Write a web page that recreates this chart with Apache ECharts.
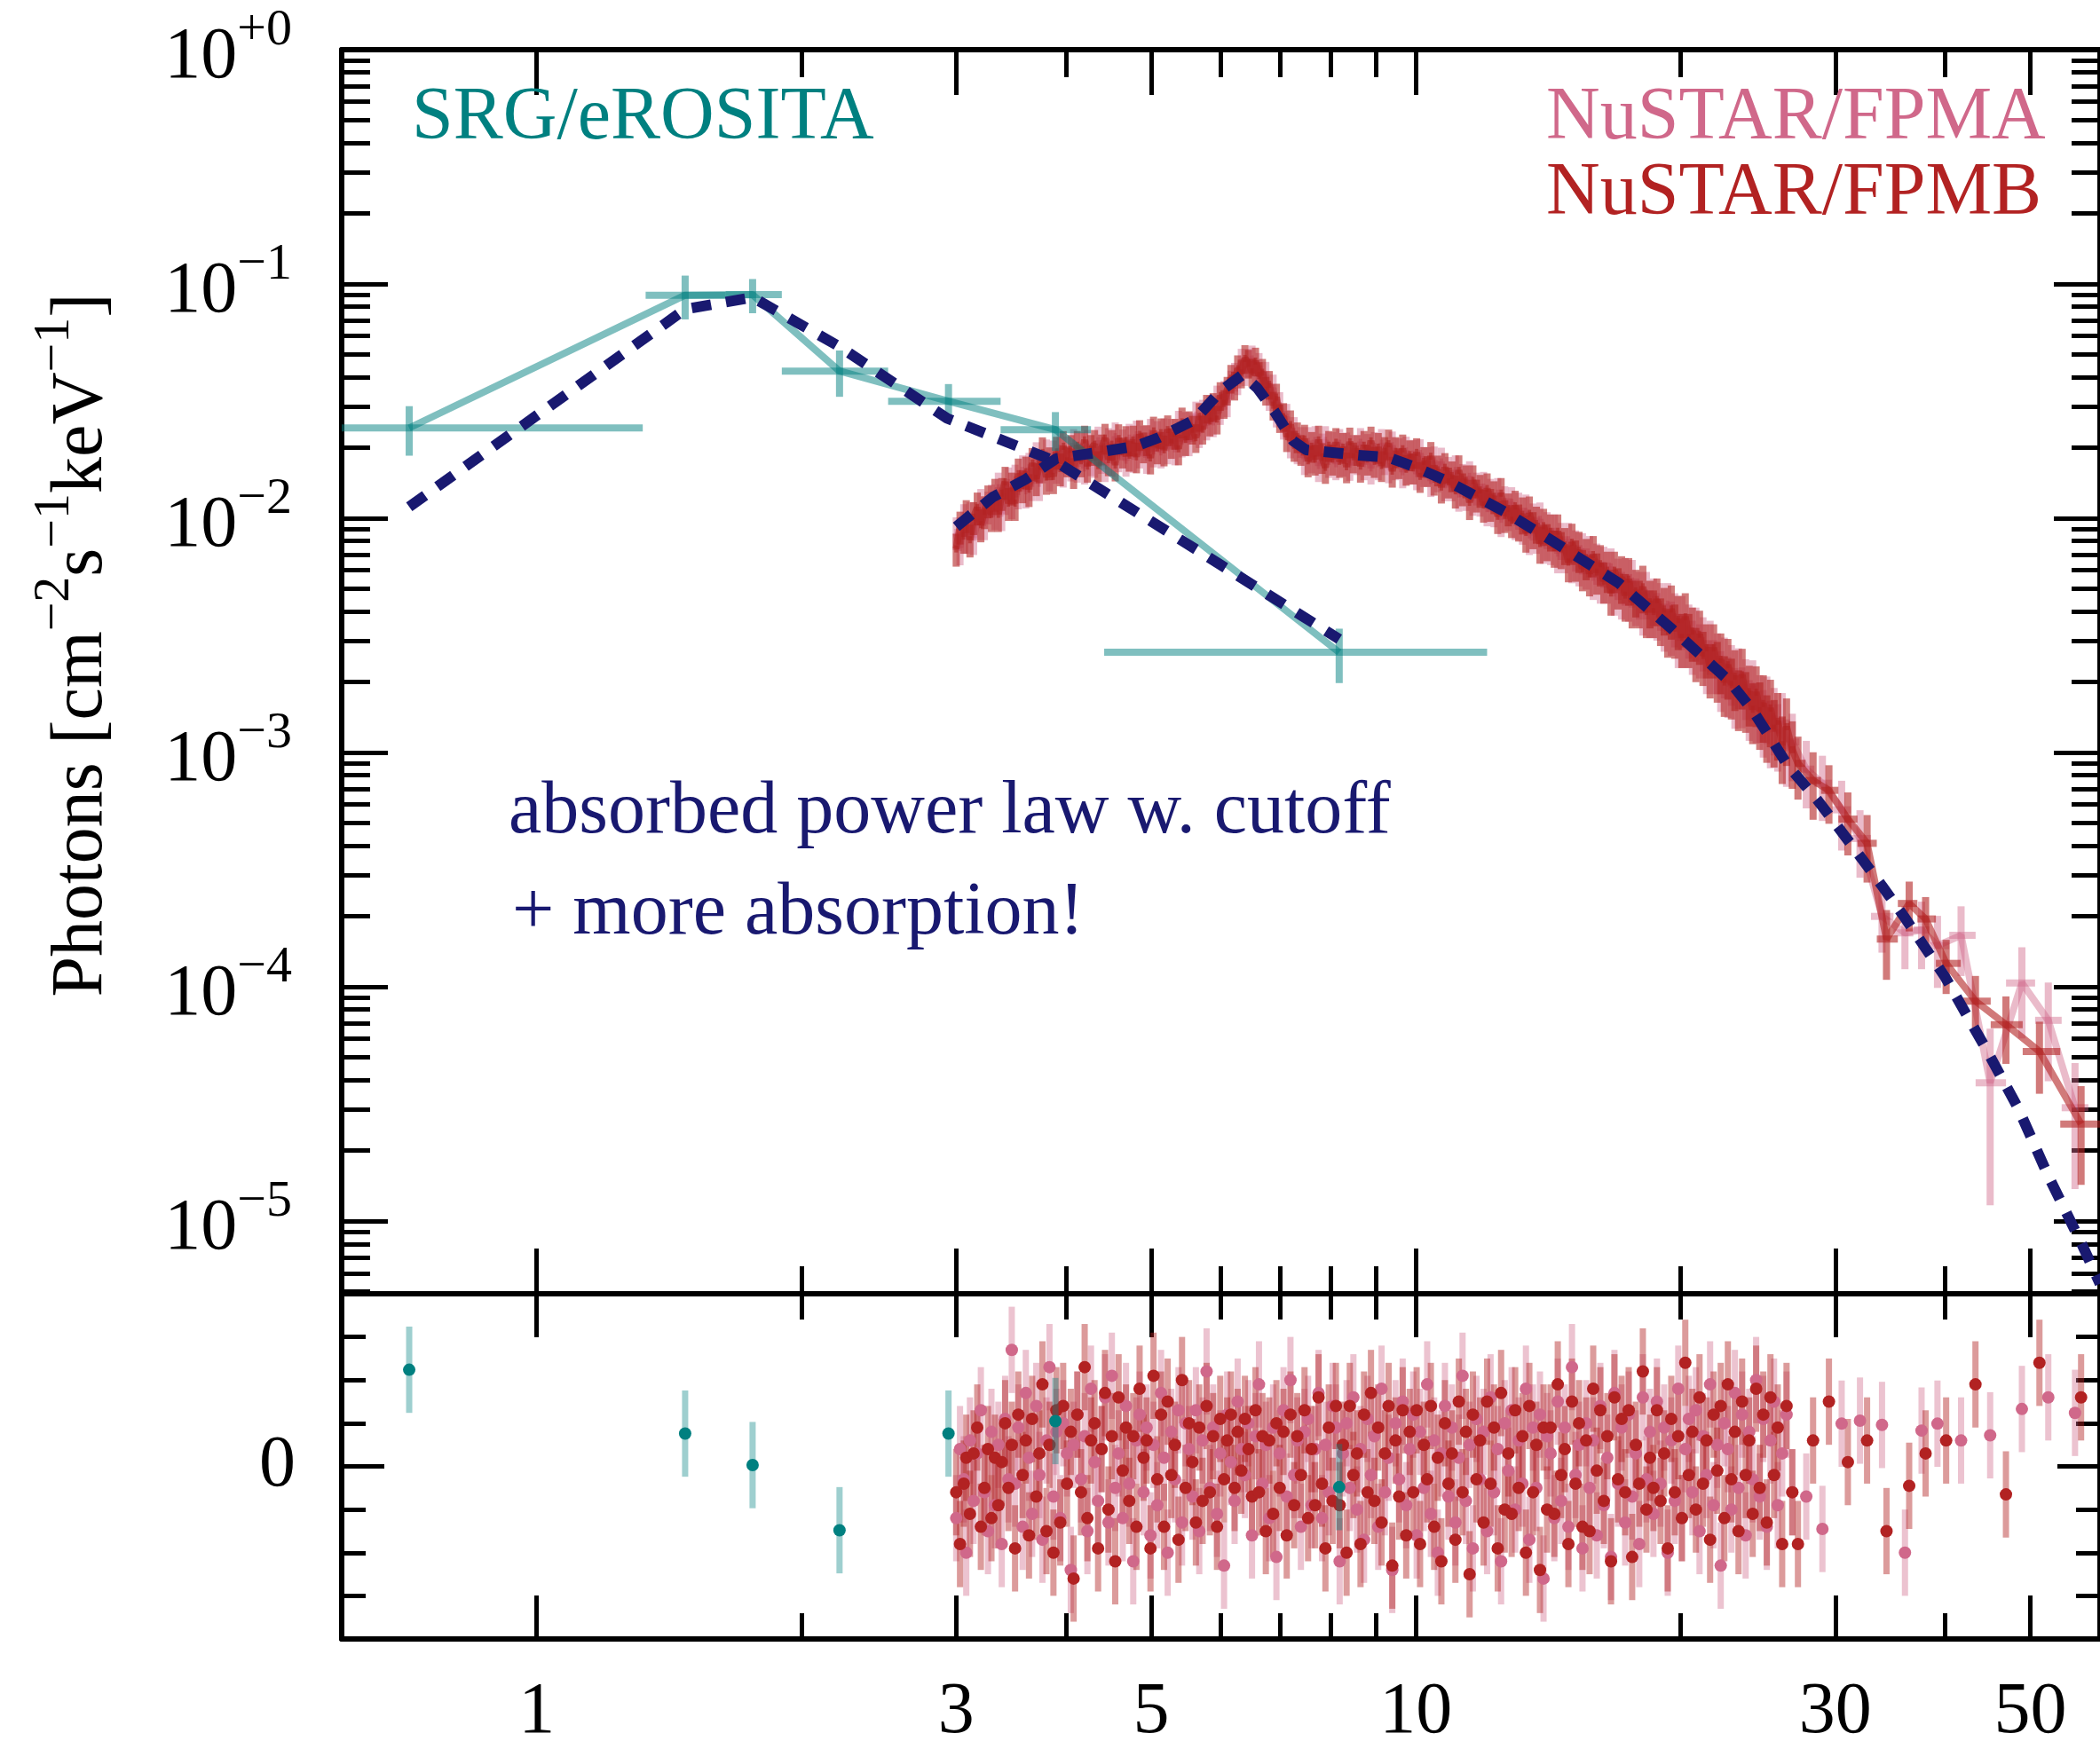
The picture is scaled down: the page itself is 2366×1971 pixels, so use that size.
<!DOCTYPE html>
<html><head><meta charset="utf-8">
<script src="https://cdn.jsdelivr.net/npm/echarts@6/dist/echarts.min.js"></script>
<style>html,body{margin:0;padding:0;background:#fff}#c{width:2366px;height:1971px}</style>
</head><body><div id="c"></div>
<script>
// ---------------- axis ticks ----------------
const X_MIN = 0.6, X_MAX = 60;
const X_MAJOR = [1, 3, 5, 10, 30, 50];
const X_MINOR = [2, 4, 6, 7, 8, 9, 20, 40];
const Y_MIN = 4.9e-6, Y_MAX = 1;
const Y_MAJOR = [1e-5, 1e-4, 1e-3, 1e-2, 1e-1, 1];
const Y_MANT = [2, 3, 4, 5, 6, 7, 8, 9];
const R_MIN = -4, R_MAX = 4;
const R_MAJOR = [0];
const R_MINOR = [-3, -2, -1, 1, 2, 3];

// ---------------- SRG/eROSITA ----------------
const erE   = [0.716, 1.475, 1.76, 2.21, 2.94, 3.89, 8.18];
const erLo  = [0.38, 1.33, 1.64, 1.90, 2.51, 3.37, 4.42];
const erHi  = [1.32, 1.64, 1.90, 2.51, 3.37, 4.27, 12.05];
const erF   = [0.0243, 0.0896, 0.0900, 0.0425, 0.0316, 0.0239, 0.00268];
const erErr = [0.0058, 0.019, 0.015, 0.0095, 0.0058, 0.0045, 0.0007];
const erRes = [2.24, 0.76, 0.03, -1.48, 0.76, 1.05, -0.48];

// ---------------- model (dashed) ----------------
const modErE = [0.716, 1.475, 1.76, 2.21, 2.93, 3.89, 8.18];
const modErF = [0.0112, 0.078, 0.0877, 0.054, 0.0267, 0.0175, 0.00305];
const modNuE = [3.0, 3.3, 3.6, 3.9, 4.3, 4.8, 5.1, 5.6, 6.0, 6.35, 6.6, 6.9, 7.25, 7.5, 8.6, 9.3, 10.0, 10.9, 12.6, 14.3, 17.0, 19.5, 22.7, 24.2, 26.5, 28.6, 31.2, 33.9, 35.9, 40.0, 44.2, 48.4, 52.4, 57.1, 60];
const modNuF = [0.0092, 0.0123, 0.0147, 0.018, 0.019, 0.0203, 0.0221, 0.0263, 0.035, 0.041, 0.036, 0.0287, 0.0214, 0.0196, 0.0186, 0.0182, 0.0165, 0.0143, 0.0107, 0.008, 0.0053, 0.0034, 0.00203, 0.0015, 0.00088, 0.00063, 0.00041, 0.00027, 0.0002, 0.00011, 0.000057, 0.0000305, 0.0000156, 0.0000081, 0.0000054];

// ---------------- NuSTAR shared bin centres (3-27 keV) ----------------
const nuE = [3.00,3.03,3.06,3.08,3.11,3.14,3.17,3.20,3.23,3.26,
3.29,3.32,3.35,3.38,3.41,3.44,3.47,3.50,3.53,3.57,
3.60,3.63,3.66,3.70,3.73,3.76,3.80,3.83,3.87,3.90,
3.94,3.97,4.01,4.05,4.08,4.12,4.16,4.20,4.23,4.27,
4.31,4.35,4.39,4.43,4.47,4.51,4.55,4.59,4.64,4.68,
4.72,4.77,4.81,4.85,4.90,4.94,4.99,5.03,5.08,5.13,
5.17,5.22,5.27,5.32,5.37,5.42,5.47,5.52,5.57,5.62,
5.67,5.72,5.78,5.83,5.88,5.94,5.99,6.05,6.10,6.16,
6.22,6.27,6.33,6.39,6.45,6.51,6.57,6.63,6.69,6.75,
6.81,6.88,6.94,7.00,7.07,7.13,7.20,7.27,7.33,7.40,
7.47,7.54,7.61,7.68,7.75,7.82,7.89,7.96,8.04,8.11,
8.19,8.26,8.34,8.41,8.49,8.57,8.65,8.73,8.81,8.89,
8.97,9.06,9.14,9.22,9.31,9.40,9.48,9.57,9.66,9.75,
9.84,9.93,10.02,10.11,10.21,10.30,10.40,10.49,10.59,10.69,
10.79,10.89,10.99,11.09,11.19,11.30,11.40,11.51,11.61,11.72,
11.83,11.94,12.05,12.16,12.27,12.39,12.50,12.62,12.74,12.85,
12.97,13.09,13.22,13.34,13.46,13.59,13.71,13.84,13.97,14.10,
14.23,14.37,14.50,14.63,14.77,14.91,15.05,15.19,15.33,15.47,
15.62,15.76,15.91,16.06,16.21,16.36,16.51,16.67,16.82,16.98,
17.14,17.30,17.46,17.62,17.79,17.95,18.12,18.29,18.46,18.63,
18.80,18.98,19.16,19.34,19.52,19.70,19.88,20.07,20.25,20.44,
20.63,20.82,21.02,21.21,21.41,21.61,21.81,22.02,22.22,22.43,
22.64,22.85,23.06,23.28,23.50,23.72,23.94,24.16,24.38,24.61,
24.84,25.07,25.31,25.55,25.80,26.10,26.40,26.80];

// relative 1-sigma error level of the NuSTAR points by energy band [from keV, rel. error]
const relErrBands = [[0, 0.16], [4.0, 0.15], [5.5, 0.14], [7.2, 0.15], [11, 0.16], [13, 0.18], [15, 0.20], [17, 0.23], [19.5, 0.26], [22, 0.29], [24.5, 0.32]];

// ---------------- NuSTAR/FPMB ----------------
const fpmbF = [0.0074,0.0092,0.0084,0.0103,0.0081,0.0101,0.0111,0.0094,0.0107,0.0119,
0.0104,0.0127,0.0104,0.0128,0.0143,0.0116,0.0135,0.0116,0.0155,0.0138,
0.0158,0.0133,0.0172,0.0148,0.0168,0.0191,0.0150,0.0173,0.0151,0.0192,
0.0163,0.0203,0.0176,0.0197,0.0157,0.0205,0.0176,0.0216,0.0167,0.0197,
0.0207,0.0168,0.0198,0.0220,0.0178,0.0207,0.0169,0.0219,0.0192,0.0215,
0.0186,0.0216,0.0183,0.0228,0.0202,0.0217,0.0181,0.0236,0.0200,0.0232,
0.0196,0.0239,0.0211,0.0231,0.0198,0.0258,0.0217,0.0251,0.0240,0.0221,
0.0272,0.0240,0.0295,0.0260,0.0300,0.0265,0.0334,0.0309,0.0352,0.0396,
0.0370,0.0435,0.0417,0.0481,0.0459,0.0421,0.0469,0.0407,0.0420,0.0352,
0.0373,0.0304,0.0329,0.0269,0.0272,0.0223,0.0251,0.0205,0.0223,0.0197,
0.0218,0.0176,0.0203,0.0179,0.0216,0.0182,0.0165,0.0205,0.0179,0.0211,
0.0175,0.0201,0.0166,0.0212,0.0183,0.0197,0.0167,0.0205,0.0179,0.0214,
0.0175,0.0201,0.0168,0.0193,0.0208,0.0159,0.0193,0.0173,0.0198,0.0162,
0.0187,0.0164,0.0191,0.0151,0.0175,0.0160,0.0184,0.0147,0.0161,0.0136,
0.0165,0.0143,0.0152,0.0131,0.0160,0.0134,0.0145,0.0117,0.0145,0.0126,
0.0132,0.0114,0.0134,0.0115,0.0124,0.0102,0.0128,0.0103,0.0110,0.0098,
0.0113,0.0097,0.0104,0.0087,0.0105,0.0090,0.0095,0.0078,0.0093,0.0080,
0.0088,0.0075,0.0088,0.0074,0.0077,0.0065,0.0079,0.0067,0.0073,0.0061,
0.0068,0.0058,0.0070,0.0059,0.0064,0.0054,0.0060,0.0048,0.0060,0.0051,
0.0056,0.0047,0.0055,0.0044,0.0049,0.0044,0.0051,0.0040,0.0044,0.0040,
0.0045,0.0037,0.0041,0.0033,0.0041,0.0034,0.0037,0.0031,0.0038,0.0031,
0.0033,0.0027,0.0032,0.0026,0.0028,0.0023,0.0028,0.0023,0.0025,0.0020,
0.00237,0.00195,0.00212,0.00174,0.00215,0.00171,0.00182,0.00153,0.00181,0.00151,
0.00162,0.00133,0.00155,0.00127,0.00136,0.00108,0.00129,0.00103];
const fpmbRes = [-0.6,-1.8,-0.4,0.2,-1.1,0.3,0.9,-1.4,-0.5,0.4,
-1.2,0.2,-0.9,0.1,1.0,-0.5,0.5,-1.9,1.2,-0.2,
0.6,-1.6,1.1,-0.7,0.3,1.9,-1.5,0.5,-2.0,1.3,
-1.3,1.4,-0.4,0.8,-2.6,1.2,-0.6,2.3,-1.2,0.6,
1.0,-1.9,0.4,1.7,-1.0,0.7,-2.2,1.6,-0.1,0.9,
-0.8,0.7,-1.4,1.8,0.2,0.6,-1.9,2.1,-0.3,1.2,
-1.4,1.5,-0.2,0.5,-1.7,2.0,-0.5,1.0,0.1,-1.3,
0.9,-0.8,1.4,-0.6,0.7,-1.4,1.1,-0.3,0.6,1.2,
-0.5,0.8,-0.1,1.1,0.4,-0.7,1.3,-0.6,0.7,-1.5,
0.6,-1.1,1.0,-0.5,0.8,-1.6,1.2,-0.9,0.7,-0.2,
1.3,-1.2,0.4,-0.9,1.6,-0.4,-1.9,0.9,-0.8,1.4,
-0.9,0.5,-2.0,1.4,-0.2,0.3,-1.8,1.2,-0.6,1.7,
-0.8,0.9,-1.3,0.3,1.4,-2.3,0.6,-0.7,1.3,-1.6,
0.8,-0.6,1.3,-1.8,0.5,-0.3,1.4,-1.4,0.2,-2.2,
1.0,-0.4,0.3,-1.7,1.5,-0.6,0.8,-2.5,1.2,-0.3,
0.6,-1.3,1.5,-0.4,0.9,-1.9,1.7,-1.0,0.3,-1.1,
1.3,-0.5,0.7,-2.0,1.4,-0.6,0.5,-2.4,0.9,-1.0,
0.9,-1.1,1.9,-0.2,0.4,-1.8,1.5,-0.4,1.0,-1.4,
0.6,-1.5,1.8,-0.1,1.3,-0.8,0.7,-2.2,1.6,-0.3,
1.1,-0.6,1.3,-2.1,0.5,-0.4,2.2,-1.0,0.2,-0.5,
1.3,-0.8,0.3,-1.9,1.1,-0.6,0.7,-1.2,2.4,-0.2,
0.8,-1.0,1.6,-0.4,0.6,-1.7,1.2,-0.1,1.4,-1.2,
1.9,-0.3,0.8,-1.5,1.5,-0.2,0.6,-1.1,1.8,-0.5,
1.2,-1.3,1.6,-0.2,0.9,-1.8,1.4,-0.6];
const fpmbTailE   = [27.20, 28.30, 29.50, 31.00, 32.60, 34.30, 36.40, 38.00, 40.10, 43.30, 46.90, 51.20, 57.10];
const fpmbTailF   = [0.00090, 0.00076, 0.00069, 0.00052, 0.00041, 0.00016, 0.000227, 0.000195, 0.000126, 0.000087, 0.000069, 0.000053, 0.000026];
const fpmbTailRel = [0.30, 0.32, 0.28, 0.30, 0.32, 0.33, 0.24, 0.24, 0.26, 0.28, 0.32, 0.34, 0.45];
const fpmbTailRes = [-1.8, 0.6, 1.5, 0.1, 0.6, -1.5, -0.45, 0.3, 0.6, 1.9, -0.65, 2.4, 1.6];

// ---------------- NuSTAR/FPMA ----------------
const fpmaF = [0.0087,0.0075,0.0099,0.0084,0.0101,0.0083,0.0096,0.0115,0.0096,0.0112,
0.0120,0.0106,0.0135,0.0105,0.0123,0.0142,0.0118,0.0146,0.0130,0.0160,
0.0131,0.0164,0.0141,0.0182,0.0141,0.0168,0.0187,0.0155,0.0185,0.0167,
0.0199,0.0161,0.0194,0.0169,0.0209,0.0167,0.0202,0.0164,0.0207,0.0178,
0.0175,0.0214,0.0182,0.0168,0.0211,0.0177,0.0223,0.0185,0.0208,0.0177,
0.0220,0.0184,0.0227,0.0192,0.0216,0.0182,0.0231,0.0194,0.0226,0.0192,
0.0232,0.0200,0.0231,0.0198,0.0250,0.0214,0.0247,0.0214,0.0247,0.0276,
0.0232,0.0281,0.0250,0.0293,0.0258,0.0323,0.0291,0.0338,0.0314,0.0374,
0.0404,0.0390,0.0464,0.0427,0.0464,0.0479,0.0416,0.0445,0.0376,0.0408,
0.0334,0.0360,0.0284,0.0303,0.0252,0.0270,0.0212,0.0235,0.0200,0.0213,
0.0180,0.0213,0.0183,0.0215,0.0168,0.0200,0.0215,0.0175,0.0203,0.0171,
0.0209,0.0177,0.0202,0.0170,0.0197,0.0180,0.0211,0.0171,0.0199,0.0164,
0.0203,0.0171,0.0209,0.0180,0.0166,0.0204,0.0171,0.0191,0.0158,0.0194,
0.0164,0.0188,0.0155,0.0189,0.0160,0.0175,0.0145,0.0176,0.0152,0.0174,
0.0139,0.0159,0.0139,0.0160,0.0127,0.0147,0.0128,0.0151,0.0122,0.0135,
0.0121,0.0136,0.0110,0.0127,0.0109,0.0128,0.0099,0.0118,0.0105,0.0117,
0.0096,0.0109,0.0094,0.0107,0.0085,0.0098,0.0086,0.0099,0.0078,0.0090,
0.0077,0.0088,0.0071,0.0081,0.0071,0.0081,0.0066,0.0074,0.0064,0.0072,
0.0062,0.0070,0.0056,0.0065,0.0054,0.0063,0.0054,0.0062,0.0048,0.0056,
0.0048,0.0055,0.0047,0.0054,0.0045,0.0048,0.0041,0.0048,0.0040,0.0045,
0.0039,0.0043,0.0035,0.0043,0.0035,0.0038,0.0031,0.0037,0.0031,0.0034,
0.0029,0.0033,0.0028,0.0030,0.0024,0.0029,0.0024,0.0025,0.0021,0.0024,
0.00198,0.00223,0.00178,0.00216,0.00179,0.00194,0.00158,0.00192,0.00154,0.00162,
0.00140,0.00160,0.00126,0.00143,0.00122,0.00136,0.00105,0.00111];
const fpmaRes = [-1.2,0.4,-0.3,-2.0,0.6,-0.8,0.3,1.3,-0.6,-1.5,
0.8,-0.9,0.5,-1.8,1.1,-0.3,2.7,-0.4,0.9,-1.4,
1.7,0.2,-1.1,1.4,-0.2,-1.7,0.6,2.3,-0.7,0.8,
-1.2,1.0,0.3,-2.4,0.5,1.2,-0.3,0.7,-1.5,1.8,
0.1,-0.8,0.4,1.6,-1.3,2.1,-0.5,0.3,-1.2,1.4,
-0.4,-2.2,0.6,1.2,-0.6,0.9,-1.6,0.5,-0.9,1.7,
0.2,-2.0,0.8,-0.3,1.3,-1.3,1.0,0.4,-0.7,1.3,
-1.5,0.6,2.2,-0.5,0.9,-1.1,0.3,-2.3,1.2,0.1,
-0.8,1.5,0.4,-0.2,1.0,-1.6,0.7,1.9,-0.4,0.5,
-1.2,0.9,-2.1,0.3,1.3,-0.7,2.0,-0.2,0.6,-1.4,
0.8,1.1,-0.9,0.4,1.7,-1.2,0.5,-0.6,1.4,0.9,
-2.2,0.3,1.0,-0.5,1.6,-1.0,0.4,-1.7,1.1,-0.2,
0.7,-1.4,1.8,-0.6,0.2,-2.4,1.0,-0.3,1.5,-0.9,
0.4,1.2,-1.6,0.8,-0.5,1.9,-1.1,0.6,-2.0,0.3,
1.4,-0.7,0.9,-1.3,0.2,2.1,-0.8,0.5,-1.9,1.1,
-0.3,0.8,-1.5,1.6,-0.6,0.4,-2.2,1.0,-0.1,1.3,
-1.0,0.6,-0.4,1.8,-1.7,0.9,-0.5,1.2,-2.6,0.7,
0.3,-1.2,1.5,-0.8,0.9,-1.4,2.3,-0.2,0.5,-1.9,
1.0,-0.5,0.6,-1.6,1.4,-0.9,0.2,-2.1,1.7,-0.4,
0.9,-1.3,1.2,-0.7,0.3,-1.8,1.6,-0.3,0.8,-1.1,
1.5,-0.4,0.9,-2.0,0.6,-0.8,1.8,-1.2,0.4,1.1,
-0.6,1.3,-1.5,0.7,-0.2,1.9,-0.9,0.5,-2.3,1.0,
0.4,-1.0,1.7,-0.5,1.2,-1.6,0.8,-0.3,2.0,-0.7,
1.1,-1.4,0.6,1.5,-0.9,0.3,1.2,-0.6];
const fpmaTailE   = [27.80, 29.00, 30.50, 32.00, 33.90, 36.00, 37.60, 39.20, 41.70, 45.00, 48.90, 52.40, 56.20];
const fpmaTailF   = [0.00085, 0.00074, 0.00057, 0.00043, 0.00020, 0.00017, 0.000175, 0.00015, 0.000166, 0.000039, 0.000104, 0.000072, 0.0000305];
const fpmaTailRel = [0.32, 0.31, 0.33, 0.32, 0.30, 0.30, 0.32, 0.34, 0.33, 0.70, 0.42, 0.45, 0.55];
const fpmaTailRes = [-0.7, -1.45, 0.99, 1.06, 0.96, -2.0, 0.83, 0.99, 0.6, 0.72, 1.33, 1.6, 1.24];

// ---------------- styling ----------------
const FONT = '"Liberation Serif", "Times New Roman", serif';
const TEAL = '#008080', TEAL_A = 'rgba(0,128,128,0.5)', TEAL_B = 'rgba(0,128,128,0.38)';
const RED = '#b22222', RED_A = 'rgba(178,34,34,0.6)', RED_B = 'rgba(178,34,34,0.45)';
const PINK = '#d0688a', PINK_A = 'rgba(208,104,138,0.45)', PINK_B = 'rgba(208,104,138,0.4)';
const NAVY = '#191970';

// ---------------- helpers ----------------
function bandRel(e) { let r = relErrBands[0][1]; for (const b of relErrBands) if (e >= b[0]) r = b[1]; return r; }
const fpmbE = nuE.concat(fpmbTailE), fpmbFlux = fpmbF.concat(fpmbTailF), fpmbRs = fpmbRes.concat(fpmbTailRes);
const fpmbRel = nuE.map(bandRel).concat(fpmbTailRel);
const fpmaE = nuE.concat(fpmaTailE), fpmaFlux = fpmaF.concat(fpmaTailF), fpmaRs = fpmaRes.concat(fpmaTailRes);
const fpmaRel = nuE.map(bandRel).concat(fpmaTailRel);

function nuCross(E, F, rel) {
  const n = Math.min(E.length, F.length, rel.length), out = [];
  for (let i = 0; i < n; i++) {
    const hi = i < n - 1 ? Math.sqrt(E[i] * E[i + 1]) : E[i] * E[i] / Math.sqrt(E[i] * E[i - 1]);
    const lo = i > 0 ? Math.sqrt(E[i] * E[i - 1]) : E[i] * E[i] / hi;
    out.push([E[i], F[i], lo, hi, F[i] * (1 - rel[i]), F[i] * (1 + rel[i])]);
  }
  return out;
}
function pairs(a, b) { const o = []; for (let i = 0; i < Math.min(a.length, b.length); i++) o.push([a[i], b[i]]); return o; }
const erCrossData = erE.map((e, i) => [e, erF[i], erLo[i], erHi[i], erF[i] - erErr[i], erF[i] + erErr[i]]);

function crossRender(color, lw) {
  return function (params, api) {
    const x = api.value(0), y = api.value(1);
    const a = api.coord([api.value(2), y]), b = api.coord([api.value(3), y]);
    const c = api.coord([x, api.value(4)]), d = api.coord([x, api.value(5)]);
    return { type: 'group', children: [
      { type: 'line', shape: { x1: a[0], y1: a[1], x2: b[0], y2: b[1] }, style: { stroke: color, lineWidth: lw } },
      { type: 'line', shape: { x1: c[0], y1: c[1], x2: d[0], y2: d[1] }, style: { stroke: color, lineWidth: lw } }
    ] };
  };
}
function resBarRender(barColor) {
  return function (params, api) {
    const x = api.value(0), r = api.value(1);
    const a = api.coord([x, r - 1]), b = api.coord([x, r + 1]);
    return { type: 'line', shape: { x1: a[0], y1: a[1], x2: b[0], y2: b[1] }, style: { stroke: barColor, lineWidth: 7 } };
  };
}
function resDotRender(dotColor) {
  return function (params, api) {
    const p = api.coord([api.value(0), api.value(1)]);
    return { type: 'circle', shape: { cx: p[0], cy: p[1], r: 7 }, style: { fill: dotColor } };
  };
}

// ---------------- axes ----------------
const xAxes = [];
function addX(gridIndex, position, ticks, len, showLine, labels) {
  xAxes.push({
    type: 'log', logBase: 10, gridIndex, position, min: X_MIN, max: X_MAX,
    axisLine: { show: showLine, onZero: false, lineStyle: { color: '#000', width: 6 } },
    axisTick: { show: true, inside: true, length: len, customValues: ticks, lineStyle: { color: '#000', width: 5 } },
    axisLabel: labels ? { show: true, customValues: ticks, margin: 42, fontSize: 82, color: '#000', fontFamily: FONT, formatter: v => String(Math.round(v)) } : { show: false },
    splitLine: { show: false }
  });
}
addX(0, 'bottom', X_MAJOR, 51, true, false);
addX(0, 'bottom', X_MINOR, 31, false, false);
addX(0, 'top', X_MAJOR, 51, true, false);
addX(0, 'top', X_MINOR, 31, false, false);
addX(1, 'top', X_MAJOR, 49, true, false);
addX(1, 'top', X_MINOR, 29, false, false);
addX(1, 'bottom', X_MAJOR, 49, true, true);
addX(1, 'bottom', X_MINOR, 29, false, false);

const Y_MINOR = [];
Y_MAJOR.forEach(p => Y_MANT.forEach(m => { const v = m * p / 10; if (v >= Y_MIN && v <= Y_MAX) Y_MINOR.push(v); }));

const yAxes = [];
function addYLog(position, ticks, len, showLine, labels) {
  yAxes.push({
    type: 'log', logBase: 10, gridIndex: 0, position, min: Y_MIN, max: Y_MAX,
    axisLine: { show: showLine, onZero: false, lineStyle: { color: '#000', width: 6 } },
    axisTick: { show: true, inside: true, length: len, customValues: ticks, lineStyle: { color: '#000', width: 5 } },
    axisLabel: labels ? {
      show: true, customValues: ticks, margin: 56, color: '#000', fontFamily: FONT,
      formatter: v => { const e = Math.round(Math.log10(v)); return '{b|10}{s|' + (e === 0 ? '+0' : '\u2212' + (-e)) + '}'; },
      rich: {
        b: { fontSize: 82, fontFamily: FONT, color: '#000', lineHeight: 100, verticalAlign: 'bottom' },
        s: { fontSize: 58, fontFamily: FONT, color: '#000', lineHeight: 58, verticalAlign: 'top' }
      }
    } : { show: false },
    splitLine: { show: false }
  });
}
function addYRes(position, ticks, len, showLine, labels) {
  yAxes.push({
    type: 'value', gridIndex: 1, position, min: R_MIN, max: R_MAX,
    axisLine: { show: showLine, onZero: false, lineStyle: { color: '#000', width: 6 } },
    axisTick: { show: true, inside: true, length: len, customValues: ticks, lineStyle: { color: '#000', width: 5 } },
    axisLabel: labels ? { show: true, customValues: ticks, margin: 52, fontSize: 82, color: '#000', fontFamily: FONT } : { show: false },
    splitLine: { show: false }
  });
}
addYLog('left', Y_MAJOR, 52, true, true);
addYLog('left', Y_MINOR, 32, false, false);
addYLog('right', Y_MAJOR, 52, true, false);
addYLog('right', Y_MINOR, 32, false, false);
addYRes('left', R_MAJOR, 48, true, true);
addYRes('left', R_MINOR, 27, false, false);
addYRes('right', R_MAJOR, 48, true, false);
addYRes('right', R_MINOR, 27, false, false);

// ---------------- series ----------------
const series = [
  // upper panel
  { type: 'line', xAxisIndex: 0, yAxisIndex: 0, data: pairs(fpmaE, fpmaFlux), showSymbol: false, symbol: 'none', clip: true, lineStyle: { color: PINK_A, width: 8 }, z: 2 },
  { type: 'custom', xAxisIndex: 0, yAxisIndex: 0, data: nuCross(fpmaE, fpmaFlux, fpmaRel), renderItem: crossRender(PINK_A, 8), clip: true, z: 2 },
  { type: 'line', xAxisIndex: 0, yAxisIndex: 0, data: pairs(fpmbE, fpmbFlux), showSymbol: false, symbol: 'none', clip: true, lineStyle: { color: RED_A, width: 8 }, z: 3 },
  { type: 'custom', xAxisIndex: 0, yAxisIndex: 0, data: nuCross(fpmbE, fpmbFlux, fpmbRel), renderItem: crossRender(RED_A, 8), clip: true, z: 3 },
  { type: 'line', xAxisIndex: 0, yAxisIndex: 0, data: pairs(erE, erF), showSymbol: false, symbol: 'none', clip: true, lineStyle: { color: TEAL_A, width: 8 }, z: 4 },
  { type: 'custom', xAxisIndex: 0, yAxisIndex: 0, data: erCrossData, renderItem: crossRender(TEAL_A, 8), clip: true, z: 4 },
  { type: 'line', xAxisIndex: 0, yAxisIndex: 0, data: pairs(modErE, modErF), showSymbol: false, symbol: 'none', clip: true, lineStyle: { color: NAVY, width: 12, type: [22, 17], cap: 'butt' }, z: 5 },
  { type: 'line', xAxisIndex: 0, yAxisIndex: 0, data: pairs(modNuE, modNuF), showSymbol: false, symbol: 'none', clip: true, lineStyle: { color: NAVY, width: 12, type: [22, 17], cap: 'butt' }, z: 5 },
  // residual panel: error bars first, dots on top
  { type: 'custom', xAxisIndex: 6, yAxisIndex: 4, data: pairs(fpmaE, fpmaRs), renderItem: resBarRender(PINK_B), clip: true, z: 2 },
  { type: 'custom', xAxisIndex: 6, yAxisIndex: 4, data: pairs(fpmbE, fpmbRs), renderItem: resBarRender(RED_B), clip: true, z: 2 },
  { type: 'custom', xAxisIndex: 6, yAxisIndex: 4, data: pairs(fpmaE, fpmaRs), renderItem: resDotRender(PINK), clip: true, z: 3 },
  { type: 'custom', xAxisIndex: 6, yAxisIndex: 4, data: pairs(fpmbE, fpmbRs), renderItem: resDotRender(RED), clip: true, z: 3 },
  { type: 'custom', xAxisIndex: 6, yAxisIndex: 4, data: pairs(erE, erRes), renderItem: resBarRender(TEAL_B), clip: true, z: 4 },
  { type: 'custom', xAxisIndex: 6, yAxisIndex: 4, data: pairs(erE, erRes), renderItem: resDotRender(TEAL), clip: true, z: 4 }
];

const txt = (text, x, y, color, align) => ({
  type: 'text', x, y, z: 100,
  style: { text, fontSize: 84, fontFamily: FONT, fill: color, align, verticalAlign: 'middle' }
});

const option = {
  animation: false,
  backgroundColor: '#ffffff',
  textStyle: { fontFamily: FONT },
  grid: [
    { left: 385, top: 56, width: 2000, height: 1402, containLabel: false },
    { left: 385, top: 1458, width: 2000, height: 399, containLabel: false }
  ],
  xAxis: xAxes,
  yAxis: yAxes,
  series,
  graphic: [
    txt('SRG/eROSITA', 464, 134, TEAL, 'left'),
    txt('NuSTAR/FPMA', 1742, 134, PINK, 'left'),
    txt('NuSTAR/FPMB', 1742, 219, RED, 'left'),
    txt('absorbed power law w. cutoff', 573, 916, NAVY, 'left'),
    txt('+ more absorption!', 577, 1030, NAVY, 'left'),
    {
      type: 'text', x: 83, y: 727, rotation: Math.PI / 2, z: 100,
      style: {
        text: '{a|Photons [cm}{s|\u22122}{a|s}{s|\u22121}{a|keV}{s|\u22121}{a|]}',
        align: 'center', verticalAlign: 'middle',
        rich: {
          a: { fontSize: 82, fontFamily: FONT, fill: '#000', lineHeight: 100, verticalAlign: 'bottom' },
          s: { fontSize: 58, fontFamily: FONT, fill: '#000', lineHeight: 58, verticalAlign: 'top' }
        }
      }
    }
  ]
};

const chart = echarts.init(document.getElementById('c'), null, { renderer: 'canvas' });
chart.setOption(option);
</script></body></html>
